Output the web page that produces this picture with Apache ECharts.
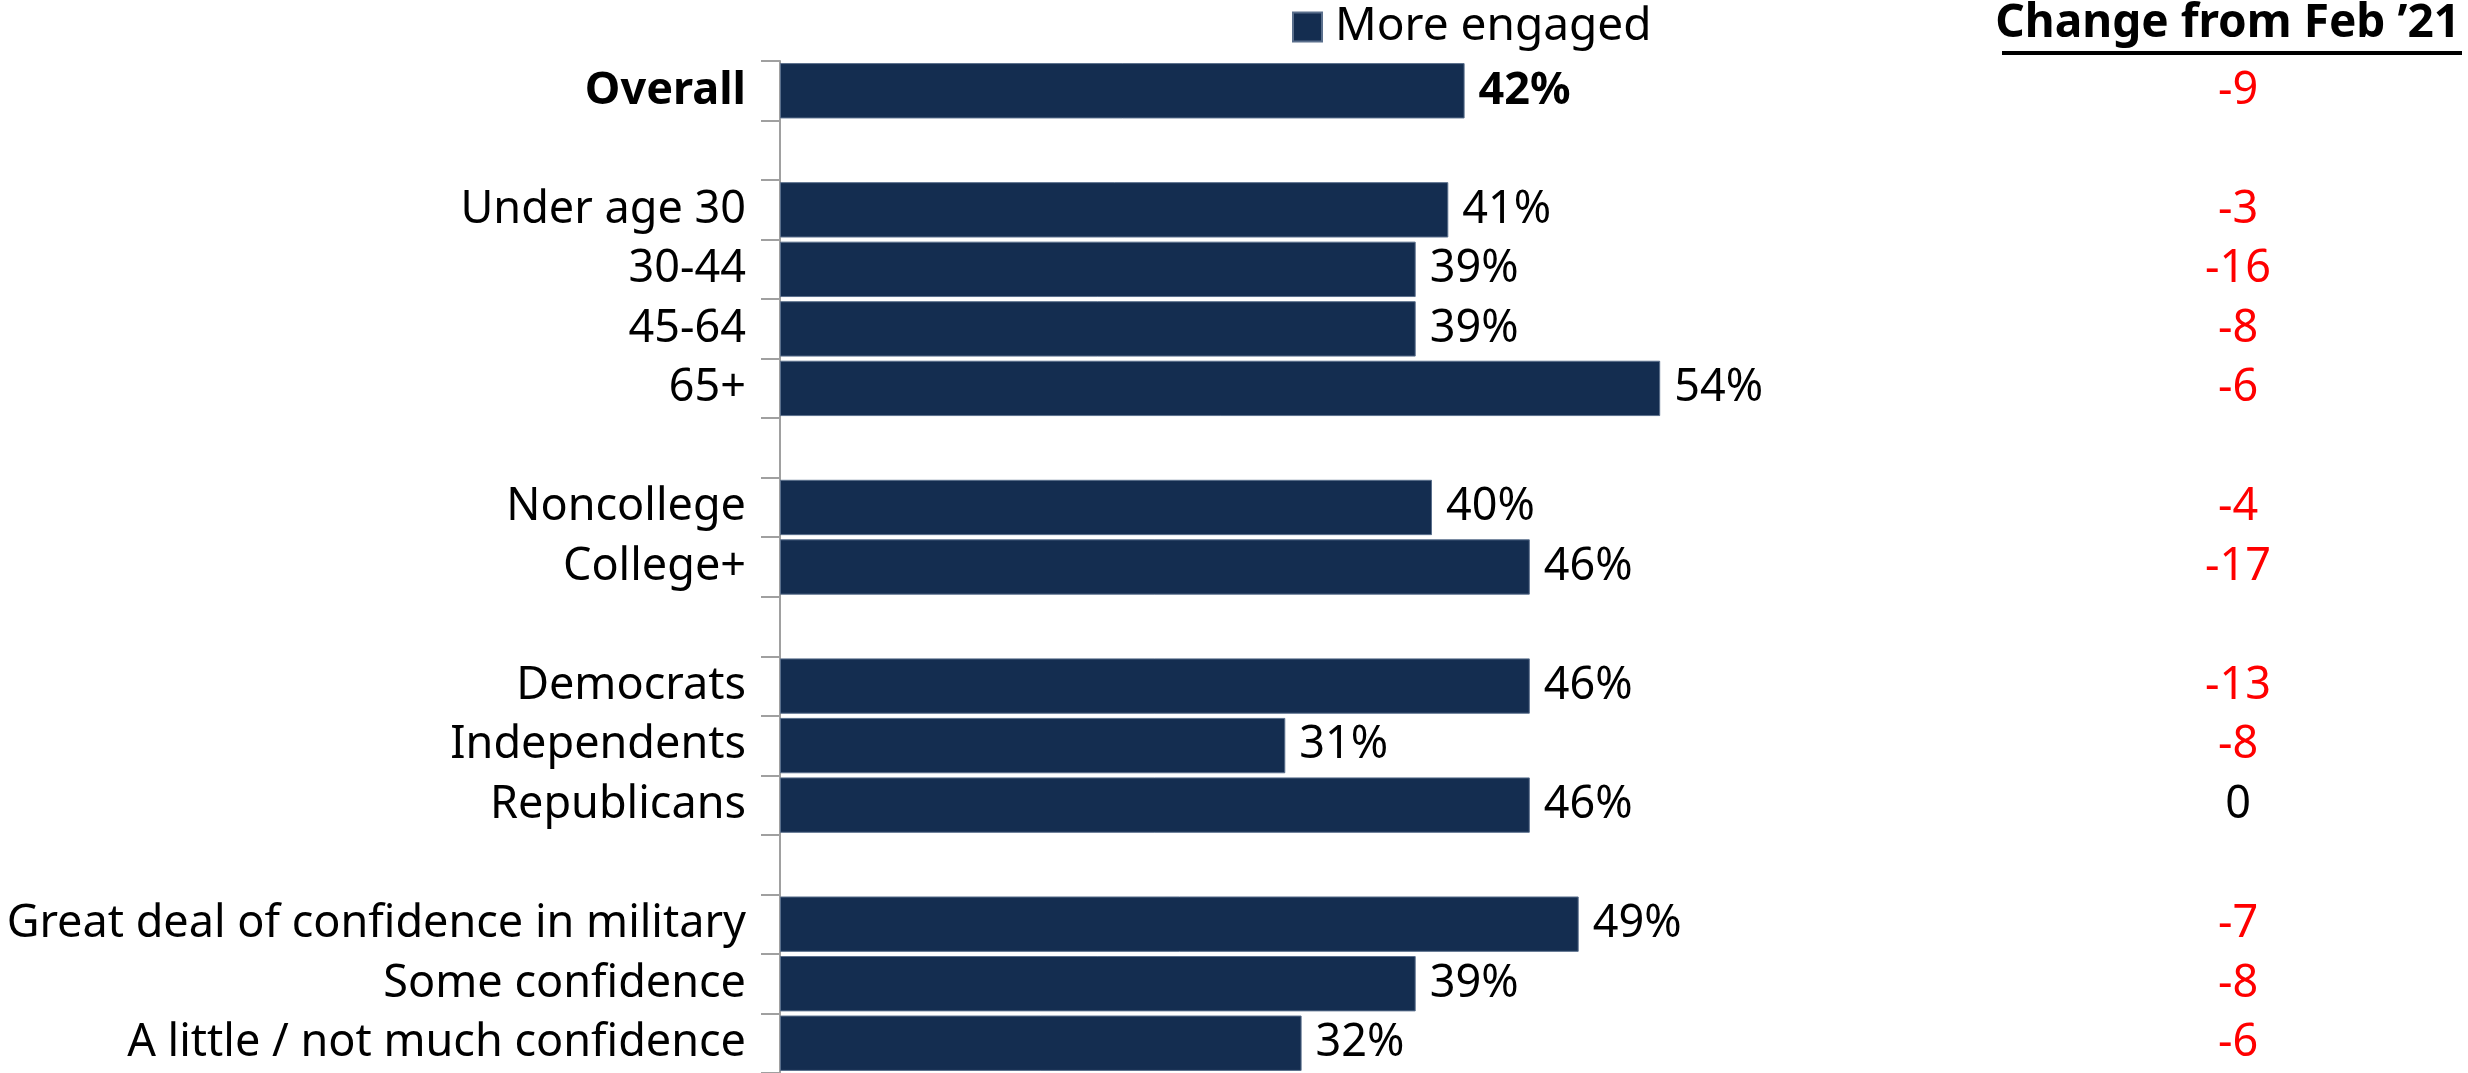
<!DOCTYPE html>
<html><head><meta charset="utf-8">
<script src="https://cdn.jsdelivr.net/npm/echarts@6/dist/echarts.min.js"></script>
<style>html,body{margin:0;padding:0;background:#fff}#c{width:2468px;height:1073px}</style>
</head><body><div id="c"></div>
<script>
const categories = ['Overall','', 'Under age 30','30-44','45-64','65+','', 'Noncollege','College+','', 'Democrats','Independents','Republicans','', 'Great deal of confidence in military','Some confidence','A little / not much confidence'];
const moreEngaged = [42,null,41,39,39,54,null,40,46,null,46,31,46,null,49,39,32];
const changeFromFeb21 = [-9,null,-3,-16,-8,-6,null,-4,-17,null,-13,-8,0,null,-7,-8,-6];
const seriesName = 'More engaged';
const changeHeader = 'Change from Feb \u201921';

const FONT = 'Noto Sans';
const FS = 45;
const chart = echarts.init(document.getElementById('c'));
chart.setOption({
  animation:false,
  textStyle:{fontFamily:FONT},
  legend:{data:[seriesName], left:1292, top:4, padding:0, icon:'rect', itemWidth:29, itemHeight:29,
    textStyle:{fontSize:46, color:'#000', fontFamily:FONT, padding:[0,0,0,8]}},
  grid:{left:780, top:61, height:1012, width:1304},
  xAxis:{type:'value', min:0, max:80, show:false},
  yAxis:[{type:'category', inverse:true, data:categories,
    axisLine:{lineStyle:{color:'#a0a0a0', width:2}},
    axisTick:{show:true, interval:0, length:19, lineStyle:{color:'#a0a0a0', width:2}},
    axisLabel:{interval:0, fontSize:FS, color:'#000', margin:34, fontFamily:FONT,
      formatter:(v,i)=> i===0 ? '{b|'+v+'}' : v,
      rich:{b:{fontWeight:'bold', fontSize:FS, fontFamily:FONT}}}},
   {type:'category', inverse:true, data:categories, position:'right',
    axisLine:{show:false}, axisTick:{show:false},
    axisLabel:{interval:0, margin:154, align:'center', fontSize:FS, fontFamily:FONT,
      formatter:(v,i)=>{const c=changeFromFeb21[i]; if(c===null||c===undefined) return ''; return c<0?'{r|'+c+'}':'{k|'+c+'}';},
      rich:{r:{color:'#ff0000', fontSize:FS, fontFamily:FONT}, k:{color:'#000', fontSize:FS, fontFamily:FONT}}}}],
  graphic:[
    {type:'text', right:8, top:1, style:{text:changeHeader, font:'bold 46px "'+FONT+'"', fill:'#000'}},
    {type:'rect', right:6, top:51, shape:{width:460, height:4}, style:{fill:'#000'}}
  ],
  series:[{name:seriesName, type:'bar', data:moreEngaged, barCategoryGap:'7%',
    itemStyle:{color:'#142d50', borderColor:'#5a6f8c', borderWidth:1},
    label:{show:true, position:'right', distance:14, fontSize:FS, color:'#000', fontFamily:FONT,
      formatter:p=> p.dataIndex===0 ? '{b|'+p.value+'%}' : p.value+'%',
      rich:{b:{fontWeight:'bold', fontSize:FS, fontFamily:FONT}}}}]
});
</script></body></html>
